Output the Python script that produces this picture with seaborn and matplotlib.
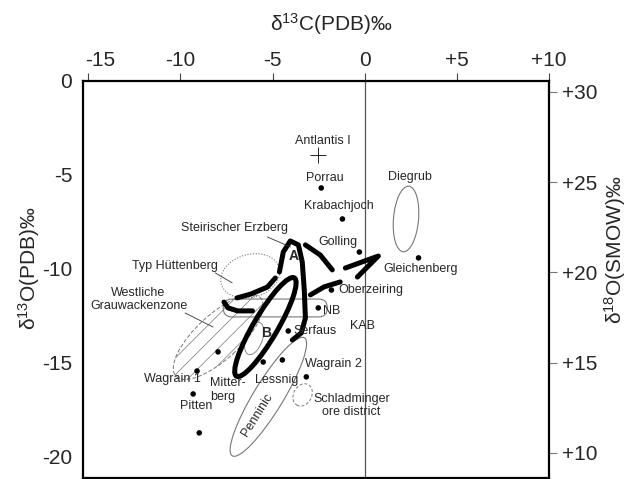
import numpy as np
import pandas as pd
import matplotlib
matplotlib.use("Agg")
import matplotlib.pyplot as plt
from matplotlib.patches import Ellipse, FancyBboxPatch
from matplotlib.transforms import ScaledTranslation
import seaborn as sns

# ---- sample localities (delta13C PDB, delta18O PDB) ----
dot_names = ["Porrau", "Krabachjoch", "Golling", "Oberzeiring", "NB", "Gleichenberg",
             "Serfaus", "Mitterberg", "Lessnig a", "Lessnig b", "Wagrain 1", "Pitten",
             "Pitten 2", "Wagrain 2"]
dot_c13 = [-2.36, -1.21, -0.29, -1.81, -2.52, 2.92, -4.15, -7.96, -5.51, -4.47, -9.10, -9.31, -8.98, -3.17]
dot_o18 = [-5.69, -7.34, -9.10, -11.12, -12.07, -9.41, -13.30, -14.41, -14.95, -14.84, -15.43, -16.65, -18.72, -15.74]

cross_c13 = [-2.52]
cross_o18 = [-3.94]

# ---- label texts and their anchor positions ----
label_text = ["Antlantis I", "Porrau", "Krabachjoch", "Golling", "Oberzeiring", "Gleichenberg",
              "Diegrub", "NB", "KAB", "Serfaus", "Steirischer Erzberg", "Typ Hüttenberg",
              "Westliche", "Grauwackenzone", "Wagrain 1", "Pitten", "Lessnig", "Wagrain 2",
              "Schladminger", "ore district"]
label_x = [-2.30, -2.14, -1.43, -1.43, 0.36, 3.02, 2.48, -1.81, -0.13, -2.68, -7.08, -10.29,
           -12.30, -12.24, -10.45, -9.15, -4.80, -1.70, -0.72, -0.72]
label_y = [-3.19, -5.16, -6.65, -8.56, -11.12, -10.00, -5.11, -12.23, -13.03, -13.30, -7.82, -9.84,
           -11.28, -11.97, -15.85, -17.29, -15.90, -15.05, -16.91, -17.61]

# ---- thin outlined fields: centre x, centre y, width, height, angle ----
diegrub = (2.24, -7.34, 1.36, 3.5, -5)
huettenberg = (-6.21, -10.37, 3.26, 2.29, 15)
penninic = (-5.23, -16.8, 7.4, 1.6, 58)
schladming = (-3.37, -16.7, 0.98, 1.25, -30)
grauwacke = (-7.95, -13.62, 6.2, 2.4, 42)
small_b = (-6.0, -13.7, 0.9, 1.8, -20)
field_b = (-5.39, -13.09, 6.1, 1.3, 59)

# ---- thick field outlines (Steirischer Erzberg, A) ----
a_solid_x = [-4.63, -4.42, -4.04, -3.60, -3.39, -3.28, -3.22, -3.44, -3.93]
a_solid_y = [-10.16, -9.10, -8.51, -8.72, -9.63, -11.12, -12.61, -13.40, -13.78]
a_arc_x = [-3.22, -2.41, -1.76]
a_arc_y = [-8.72, -9.26, -10.05]
a_vee_x = [-1.05, 0.74, -0.40]
a_vee_y = [-9.95, -9.31, -10.43]
a_low_x = [-1.33, -2.20, -2.95]
a_low_y = [-10.69, -10.95, -11.38]
a_left_x = [-6.93, -6.17, -5.28, -4.85]
a_left_y = [-11.54, -11.33, -10.96, -10.48]
a_hook_x = [-7.64, -7.42, -6.9, -6.09]
a_hook_y = [-11.76, -12.07, -12.23, -12.23]

# ---- axis ticks ----
xticks = [-15, -10, -5, 0, 5, 10]
xtick_labels = ["-15", "-10", "-5", "0", "+5", "+10"]
yticks = [0, -5, -10, -15, -20]
smow_ticks = [30, 25, 20, 15, 10]

sns.set_style("white")
plt.rcParams["font.family"] = ["Liberation Sans", "DejaVu Sans"]
plt.rcParams["mathtext.fontset"] = "custom"
plt.rcParams["mathtext.rm"] = "Liberation Sans"
plt.rcParams["mathtext.it"] = "Liberation Sans:italic"
plt.rcParams["hatch.linewidth"] = 0.5

fig = plt.figure(figsize=(6.44, 4.79), dpi=100)
ax = fig.add_axes([0.1294, 0.0021, 0.7231, 0.8288])
ax.set_xlim(-15.27, 10.0)
ax.set_ylim(-21.12, 0)

# zero line
ax.axvline(0, color="#555555", lw=0.9, zorder=1)

gray = "#777777"
def ell(p, **kw):
    e = Ellipse((p[0], p[1]), p[2], p[3], angle=p[4], fill=False, **kw)
    ax.add_patch(e)
    return e

ell(diegrub, ec=gray, lw=0.8)
ell(huettenberg, ec=gray, lw=0.8, ls=(0, (1, 1.5)))
ell(penninic, ec=gray, lw=0.8)
ell(schladming, ec=gray, lw=0.7, ls=(0, (3, 2)))
ell(grauwacke, ec=gray, lw=0.7, ls=(0, (4, 2)), hatch="//")
ell(small_b, ec=gray, lw=0.6)
ax.add_patch(FancyBboxPatch((-7.68, -12.55), 5.65, 0.95,
                            boxstyle="round,pad=0,rounding_size=0.47",
                            fill=False, ec=gray, lw=0.8))

# thick field outlines
thick = 3.6
ell(field_b, ec="black", lw=thick)
ax.plot(a_solid_x, a_solid_y, color="black", lw=thick, solid_capstyle="round")
for xs, ys in [(a_arc_x, a_arc_y), (a_vee_x, a_vee_y), (a_low_x, a_low_y),
               (a_left_x, a_left_y), (a_hook_x, a_hook_y)]:
    ax.plot(xs, ys, color="black", lw=thick, solid_capstyle="round")

# localities
df = pd.DataFrame({"c13": dot_c13, "o18": dot_o18, "name": dot_names})
sns.scatterplot(data=df, x="c13", y="o18", color="black", s=16, edgecolor="none", ax=ax, zorder=5)
ax.scatter(cross_c13, cross_o18, marker="+", s=120, color="black", linewidths=0.6, zorder=5)

# labels
for t, x, y in zip(label_text, label_x, label_y):
    ax.text(x, y, t, fontsize=9, ha="center", va="center", zorder=6)
ax.text(-8.39, -16.06, "Mitter-", fontsize=9, ha="left", va="center")
ax.text(-8.39, -16.81, "berg", fontsize=9, ha="left", va="center")
ax.text(-5.84, -17.77, "Penninic", fontsize=9, ha="center", va="center", rotation=58)
ax.text(-3.88, -9.31, "A", fontsize=10, fontweight="bold", ha="center", va="center")
ax.text(-5.34, -13.40, "B", fontsize=10, fontweight="bold", ha="center", va="center")

# leader lines
ax.plot([-5.28, -4.03], [-8.30, -8.83], color="#333333", lw=0.6)
ax.plot([-8.11, -7.19], [-10.21, -10.74], color="#333333", lw=0.6)
ax.plot([-9.75, -8.23], [-12.34, -13.09], color="#333333", lw=0.6)

# axes styling
ax.xaxis.tick_top()
ax.set_xticks(xticks)
ax.set_xticklabels(xtick_labels)
ax.set_yticks(yticks)
ax.set_yticklabels([str(v) for v in yticks])
ax.tick_params(axis="x", direction="out", length=6, width=0.8, labelsize=15, pad=2, color="#444444")
ax.tick_params(axis="y", direction="out", length=6, width=0.8, labelsize=15, pad=2, color="#444444")
first = ax.get_xticklabels()[0]
first.set_transform(first.get_transform() + ScaledTranslation(0.12, 0, fig.dpi_scale_trans))
for s in ax.spines.values():
    s.set_linewidth(1.6)
    s.set_color("black")
ax.set_xlabel("")
ax.set_ylabel("")
fig.text(0.514, 0.950, r"δ$^{13}$C(PDB)‰", fontsize=15, ha="center", va="center")
fig.text(0.045, 0.44, r"δ$^{13}$O(PDB)‰", fontsize=15, ha="center", va="center", rotation=90)
fig.text(0.955, 0.478, r"δ$^{18}$O(SMOW)‰", fontsize=15, ha="center", va="center", rotation=90)

def pdb2smow(v):
    return 30 + (v + 0.585) / 0.96
def smow2pdb(v):
    return (v - 30) * 0.96 - 0.585

sec = ax.secondary_yaxis("right", functions=(pdb2smow, smow2pdb))
sec.set_yticks(smow_ticks)
sec.set_yticklabels(["+%d" % v for v in smow_ticks])
sec.tick_params(direction="out", length=6, width=0.8, labelsize=15, pad=3, color="#777777")
sec.spines["right"].set_visible(False)

fig.savefig("out.png", dpi=100)
